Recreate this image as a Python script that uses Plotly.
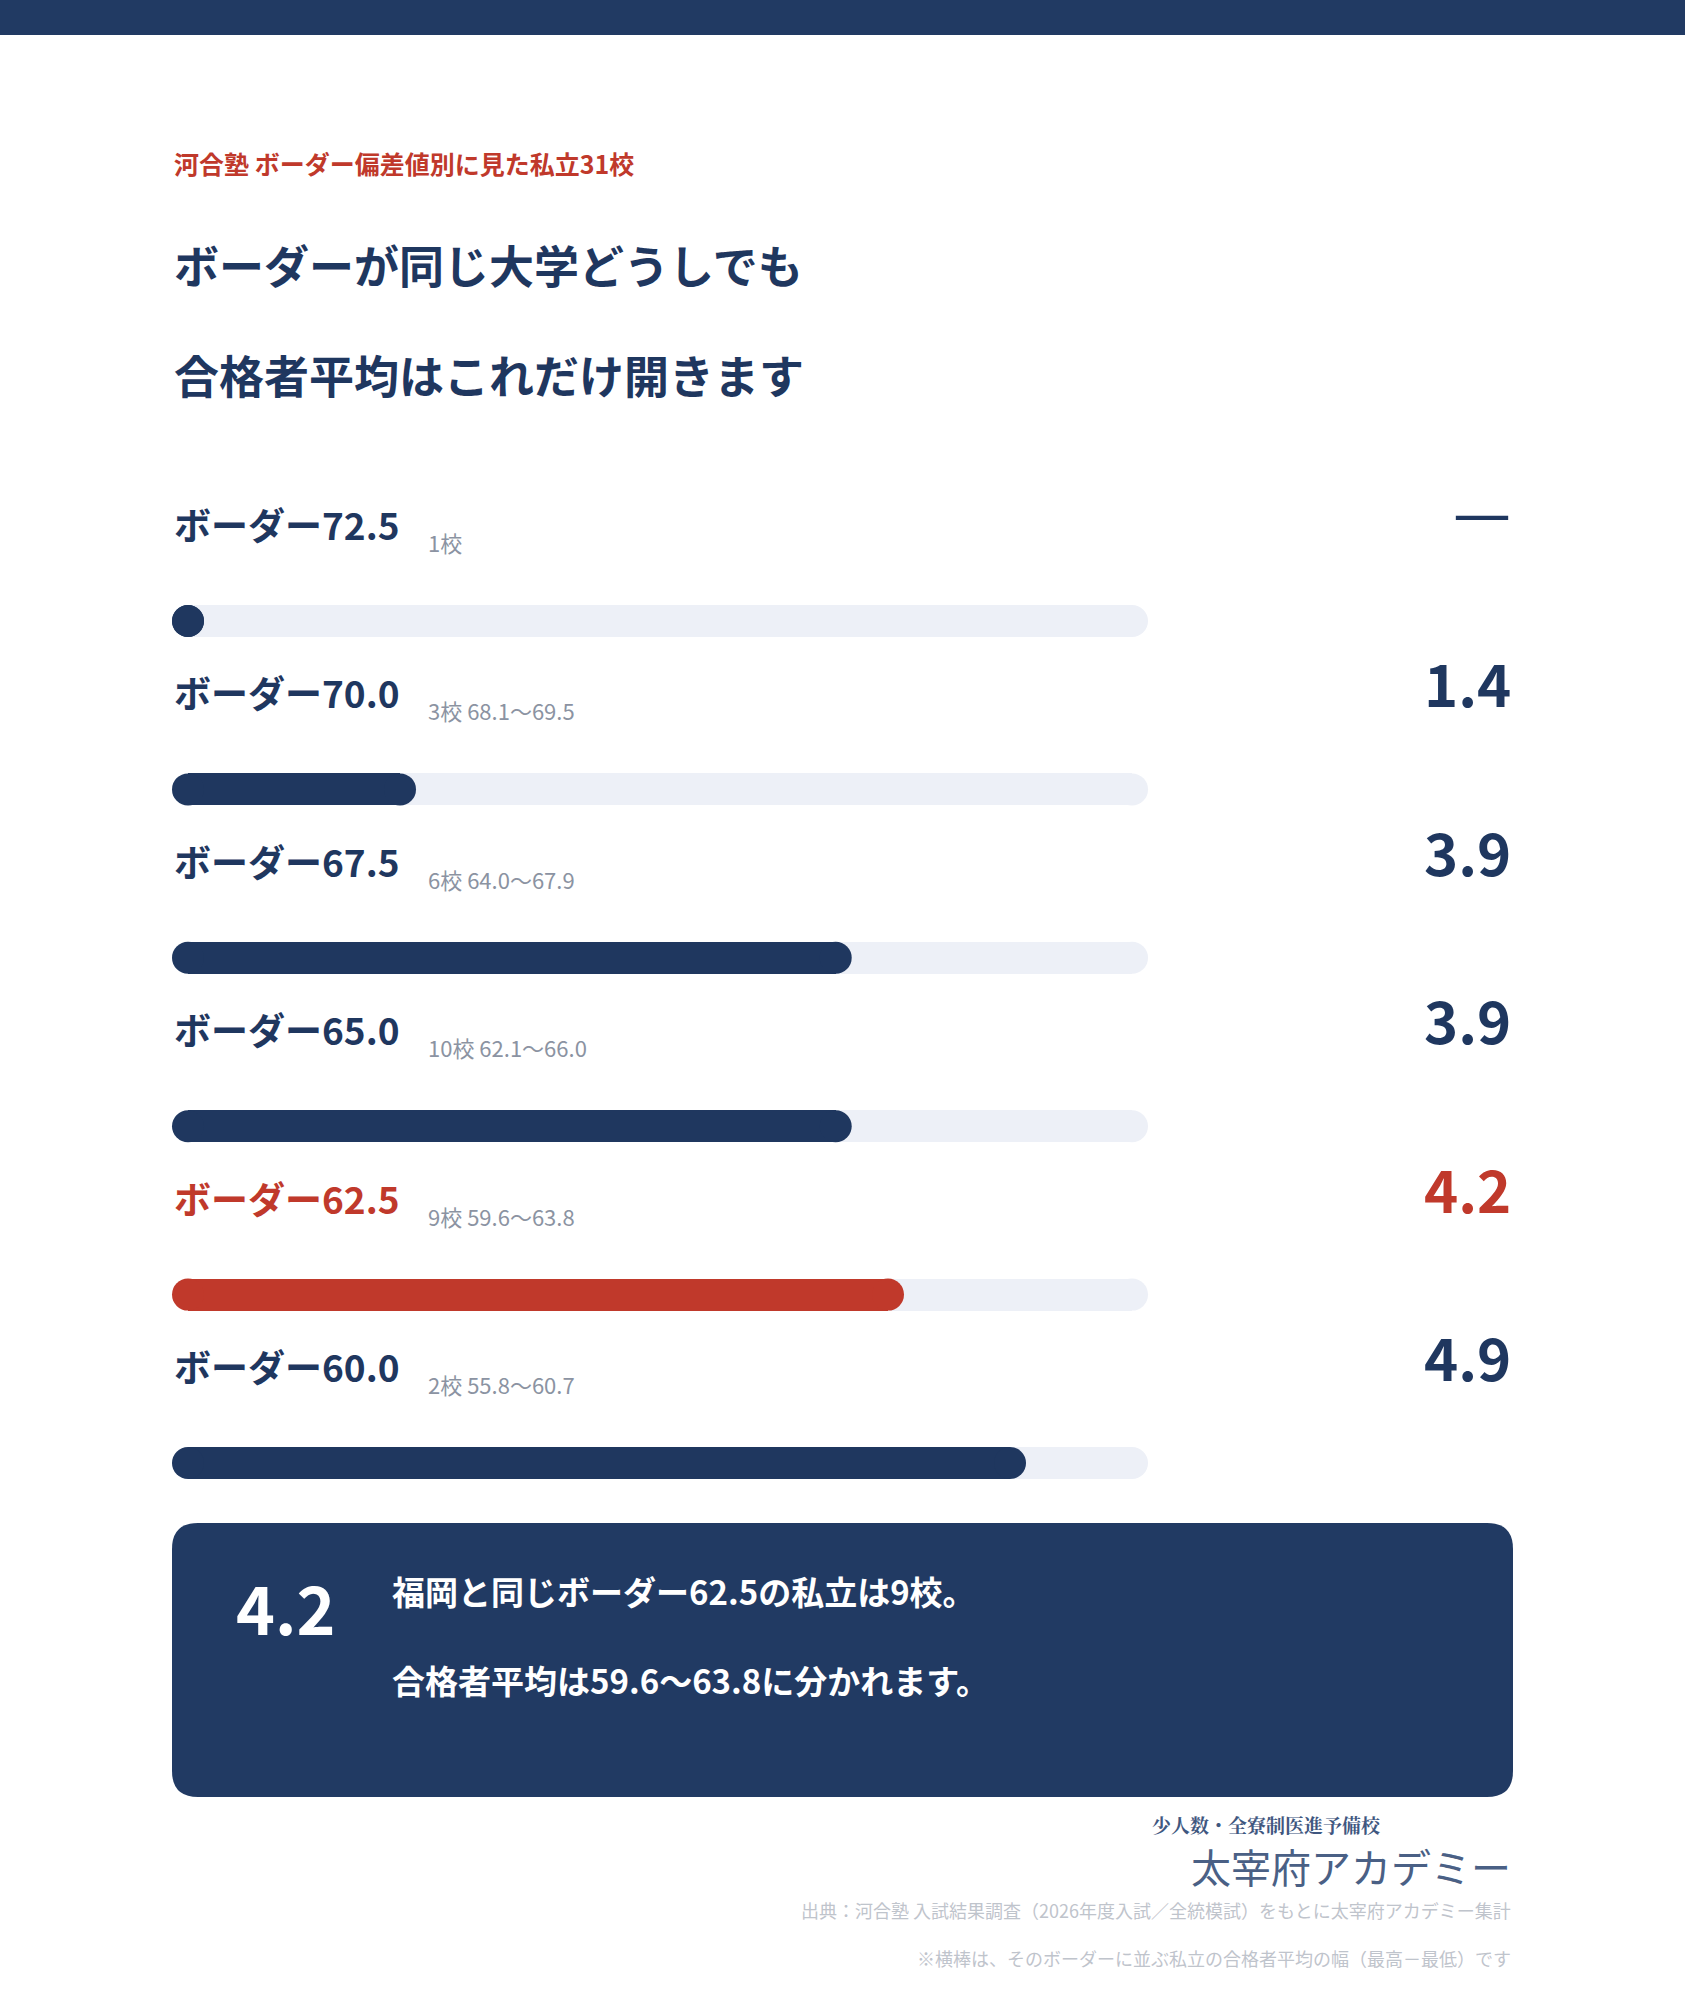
import plotly.graph_objects as go

# data
borders = ['ボーダー72.5', 'ボーダー70.0', 'ボーダー67.5', 'ボーダー65.0', 'ボーダー62.5', 'ボーダー60.0']
notes = ['1校', '3校 68.1〜69.5', '6校 64.0〜67.9', '10校 62.1〜66.0', '9校 59.6〜63.8', '2校 55.8〜60.7']
spreads = [0.0, 1.4, 3.9, 3.9, 4.2, 4.9]
value_labels = ['—', '1.4', '3.9', '3.9', '4.2', '4.9']
highlight = 'ボーダー62.5'
scale_max = 5.6

W, H = 1685, 2000
NAVY = '#1f375f'
RED = '#c0392b'
TRACK = '#edf0f7'
GRAY = '#8b93a2'
FONT = 'Noto Sans CJK JP'

x0_px, x1_px = 172, 1148
ppu = (x1_px - x0_px) / scale_max
xr = [-x0_px / ppu, (W - x0_px) / ppu]
BAR_H = 32
cap = BAR_H / 2 / ppu  # radius of the round end in data units

label_y = [524 + 168.4 * i for i in range(len(borders))]
bar_y = [621 + 168.4 * i for i in range(len(borders))]
colors = [RED if b == highlight else NAVY for b in borders]


def pill(fig, ends, color, left_cap=True):
    # rounded bar: rectangle between two circular caps
    fig.add_trace(go.Bar(
        x=[max(e - 2 * cap, 0) for e in ends], base=[cap] * len(ends), y=bar_y,
        orientation='h', width=BAR_H, marker=dict(color=color, line=dict(width=0)),
        hoverinfo='skip', showlegend=False))
    xs, ys, cs = [], [], []
    for e, yy, c in zip(ends, bar_y, color if isinstance(color, list) else [color] * len(ends)):
        if left_cap:
            xs.append(cap); ys.append(yy); cs.append(c)
        xs.append(max(e - cap, cap)); ys.append(yy); cs.append(c)
    fig.add_trace(go.Scatter(
        x=xs, y=ys, mode='markers', marker=dict(size=BAR_H, color=cs, line=dict(width=0)),
        hoverinfo='skip', showlegend=False))


fig = go.Figure()
pill(fig, [scale_max] * len(borders), TRACK, left_cap=False)
pill(fig, spreads, colors)

ann = []
def t(x, y, text, size, color, bold=False, anchor='left', family=FONT):
    ann.append(dict(x=x / W, y=y, xref='paper', yref='y', text=f'<b>{text}</b>' if bold else text,
                    showarrow=False, xanchor=anchor, yanchor='middle',
                    font=dict(size=size, color=color, family=family)))

t(172, 163, '河合塾 ボーダー偏差値別に見た私立31校', 25, RED, True)
t(172, 264, 'ボーダーが同じ大学どうしでも', 45, NAVY, True)
t(172, 374, '合格者平均はこれだけ開きます', 45, NAVY, True)

for i, b in enumerate(borders):
    t(172, label_y[i], b, 37, colors[i], True)
    t(426, label_y[i] + 18, notes[i], 22, GRAY)
    if value_labels[i] == '—':
        t(1513, label_y[i] - 10, '—', 58, NAVY, False, 'right', 'DejaVu Sans, ' + FONT)
    else:
        t(1513, label_y[i] - 10, value_labels[i], 58, colors[i], True, 'right')

# summary box
t(234, 1606, '4.2', 66, 'white', True)
t(390, 1591, '福岡と同じボーダー62.5の私立は9校。', 33, 'white', True)
t(390, 1680, '合格者平均は59.6〜63.8に分かれます。', 33, 'white', True)

# logo text
t(1383, 1824, '少人数・全寮制医進予備校', 19, '#3f5780', True, 'right', 'Noto Serif CJK JP, Noto Sans CJK JP')
t(1513, 1866, '太宰府アカデミー', 40, '#4a6085', False, 'right')
t(1513, 1910, '出典：河合塾 入試結果調査（2026年度入試／全統模試）をもとに太宰府アカデミー集計', 18, '#bfc4cc', False, 'right')
t(1513, 1958, '※横棒は、そのボーダーに並ぶ私立の合格者平均の幅（最高－最低）です', 18, '#bfc4cc', False, 'right')

r = 26
bx0, bx1, by0, by1 = 172 / W, 1513 / W, 1523, 1797
rx = r / W
path = (f'M {bx0+rx} {by0} L {bx1-rx} {by0} Q {bx1} {by0} {bx1} {by0+r} '
        f'L {bx1} {by1-r} Q {bx1} {by1} {bx1-rx} {by1} L {bx0+rx} {by1} '
        f'Q {bx0} {by1} {bx0} {by1-r} L {bx0} {by0+r} Q {bx0} {by0} {bx0+rx} {by0} Z')

shapes = [
    dict(type='rect', xref='paper', yref='y', x0=0, x1=1, y0=0, y1=35, fillcolor='#213a63', line=dict(width=0), layer='below'),
    dict(type='path', xref='paper', yref='y', path=path, fillcolor='#213a63', line=dict(width=0), layer='below'),
]

fig.update_layout(
    width=W, height=H, margin=dict(l=0, r=0, t=0, b=0),
    paper_bgcolor='white', plot_bgcolor='white',
    barmode='overlay', bargap=0,
    xaxis=dict(range=xr, visible=False, fixedrange=True),
    yaxis=dict(range=[H, 0], visible=False, fixedrange=True),
    annotations=ann, shapes=shapes,
    font=dict(family=FONT),
)

fig.write_html('out.html', config={'displayModeBar': False},
               post_script="document.body.style.margin='0';")
